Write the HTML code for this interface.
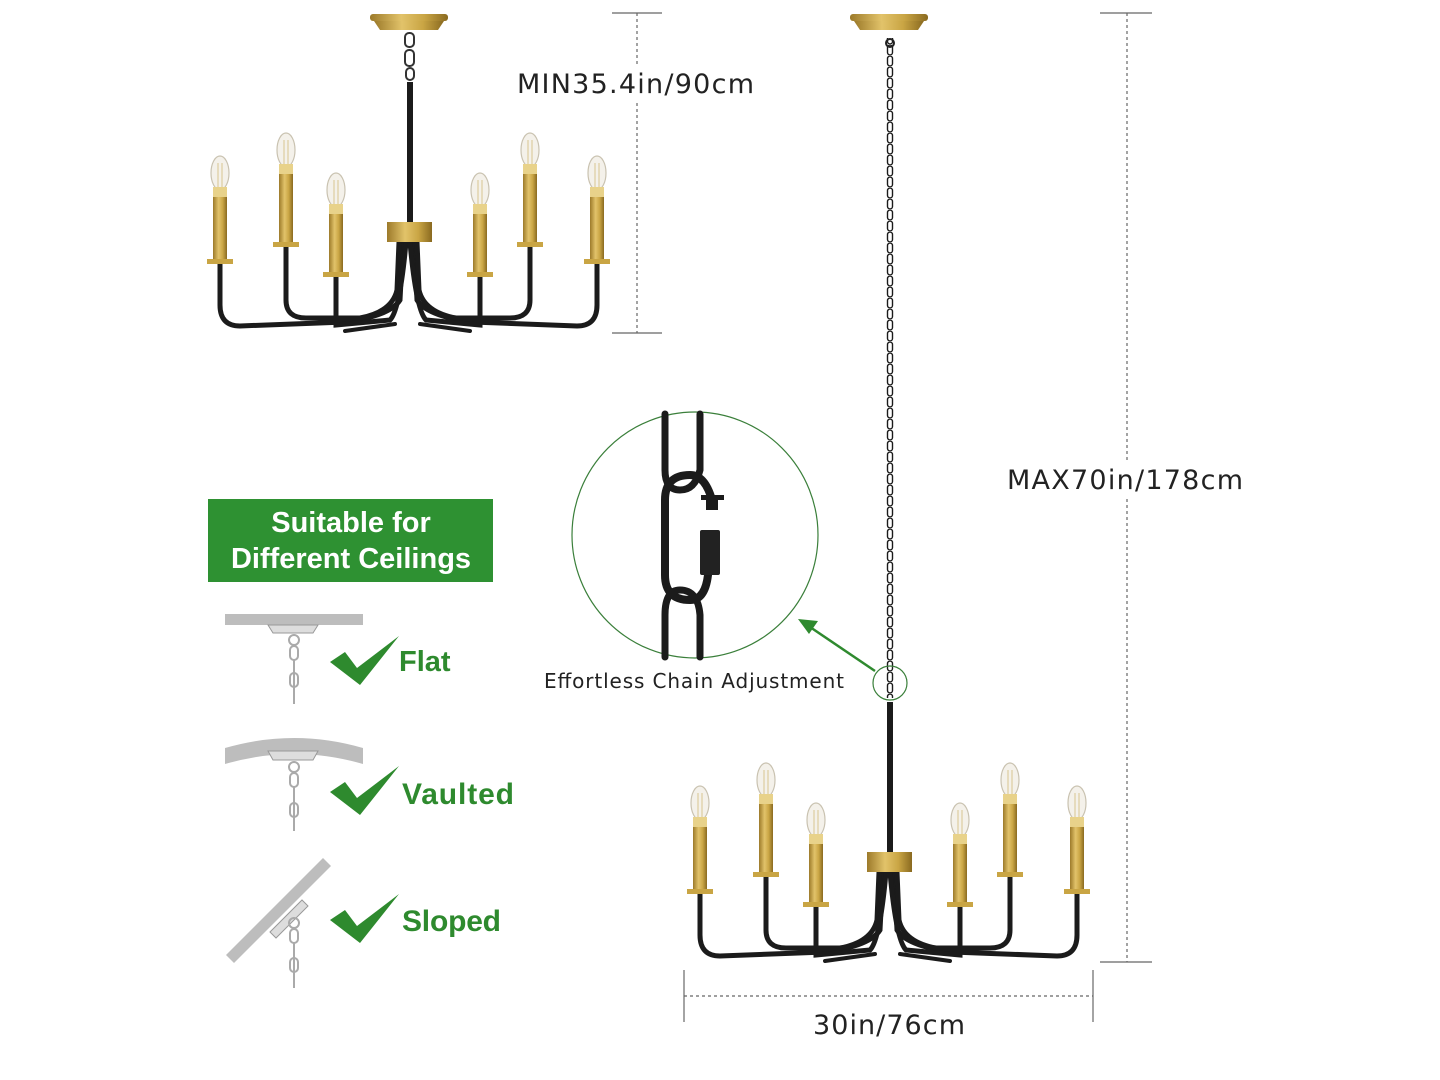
<!DOCTYPE html>
<html><head><meta charset="utf-8"><style>
html,body{margin:0;padding:0;background:#fff;}
svg{display:block;}
text{font-family:"DejaVu Sans","Liberation Sans",sans-serif;}
.lb{font-family:"Liberation Sans","DejaVu Sans",sans-serif;}
</style></head><body>
<svg width="1440" height="1080" viewBox="0 0 1440 1080" xmlns="http://www.w3.org/2000/svg">
<defs>
<linearGradient id="brass" x1="0" x2="1" y1="0" y2="0">
<stop offset="0" stop-color="#9c7a2a"/><stop offset="0.4" stop-color="#e2c36a"/><stop offset="0.7" stop-color="#c9a544"/><stop offset="1" stop-color="#8a6a20"/>
</linearGradient>
<g id="candle">
<ellipse cx="0" cy="-20" rx="9" ry="17" fill="#f4f1ea" stroke="#c9c2b0" stroke-width="1.2"/>
<line x1="-2" y1="-30" x2="-2" y2="-6" stroke="#d8c590" stroke-width="1"/>
<line x1="2" y1="-30" x2="2" y2="-6" stroke="#d8c590" stroke-width="1"/>
<rect x="-7" y="-6" width="14" height="10" fill="#e8d28a"/>
</g>
<g id="arms" fill="none" stroke="#1b1b1b" stroke-width="5" stroke-linecap="round">
<path d="M220,262 V305 Q220,326 240,326 L345,322 Q390,316 400,300 L403,242"/>
<path d="M286,245 V300 Q286,318 306,318 L360,318 Q392,312 397,290 L399,242"/>
<path d="M336,275 V325 L390,320 Q400,310 406,242"/>
<path d="M597,262 V305 Q597,326 577,326 L472,322 Q427,316 417,300 L414,242"/>
<path d="M530,245 V300 Q530,318 510,318 L456,318 Q424,312 419,290 L417,242"/>
<path d="M480,275 V325 L426,320 Q416,310 410,242"/>
<path d="M345,331 L395,324 M470,331 L420,324" stroke-width="4"/>
</g>
<g id="lamp">
<use href="#arms"/>
<g>
<rect x="213" y="193" width="14" height="67" fill="url(#brass)"/><rect x="207" y="259" width="26" height="5" fill="#c9a544"/><use href="#candle" x="220" y="193"/>
<rect x="279" y="170" width="14" height="73" fill="url(#brass)"/><rect x="273" y="242" width="26" height="5" fill="#c9a544"/><use href="#candle" x="286" y="170"/>
<rect x="329" y="210" width="14" height="63" fill="url(#brass)"/><rect x="323" y="272" width="26" height="5" fill="#c9a544"/><use href="#candle" x="336" y="210"/>
<rect x="473" y="210" width="14" height="63" fill="url(#brass)"/><rect x="467" y="272" width="26" height="5" fill="#c9a544"/><use href="#candle" x="480" y="210"/>
<rect x="523" y="170" width="14" height="73" fill="url(#brass)"/><rect x="517" y="242" width="26" height="5" fill="#c9a544"/><use href="#candle" x="530" y="170"/>
<rect x="590" y="193" width="14" height="67" fill="url(#brass)"/><rect x="584" y="259" width="26" height="5" fill="#c9a544"/><use href="#candle" x="597" y="193"/>
</g>
<rect x="387" y="222" width="45" height="20" fill="url(#brass)"/>
</g>
<g id="canopy">
<rect x="370" y="14" width="78" height="7" rx="3" fill="url(#brass)"/>
<path d="M374,21 H444 L438,30 H380 Z" fill="url(#brass)"/>
</g>
<pattern id="chainpat" x="885" y="0" width="10" height="11" patternUnits="userSpaceOnUse">
<rect x="2.5" y="1" width="5" height="10" rx="2.5" fill="none" stroke="#1b1b1b" stroke-width="1.4"/>
</pattern>
</defs>

<use href="#canopy"/>
<g fill="none" stroke="#333" stroke-width="2"><rect x="405" y="33" width="9" height="14" rx="4"/><rect x="405" y="50" width="9" height="16" rx="4"/><rect x="406" y="68" width="8" height="12" rx="4"/></g>
<rect x="407" y="82" width="6" height="140" fill="#1b1b1b"/>
<use href="#lamp"/>

<g stroke="#666" stroke-width="1.2">
<line x1="612" y1="13" x2="662" y2="13"/><line x1="612" y1="333" x2="662" y2="333"/>
<line x1="637" y1="13" x2="637" y2="333" stroke-dasharray="3,3"/>
</g>
<rect x="515" y="66" width="245" height="36" fill="#fff"/>
<text x="517" y="93" font-size="27" fill="#222" textLength="237">MIN35.4in/90cm</text>

<use href="#canopy" x="480"/>
<rect x="885" y="38" width="10" height="660" fill="url(#chainpat)"/>
<circle cx="890" cy="43" r="4" fill="none" stroke="#222" stroke-width="2"/>
<rect x="887" y="702" width="6" height="150" fill="#1b1b1b"/>
<use href="#lamp" x="480" y="630"/>

<g stroke="#666" stroke-width="1.2">
<line x1="1100" y1="13" x2="1152" y2="13"/><line x1="1100" y1="962" x2="1152" y2="962"/>
<line x1="1127" y1="13" x2="1127" y2="962" stroke-dasharray="3,3"/>
<line x1="684" y1="970" x2="684" y2="1022"/><line x1="1093" y1="970" x2="1093" y2="1022"/>
<line x1="684" y1="996" x2="1093" y2="996" stroke-dasharray="3,3"/>
</g>
<rect x="1003" y="462" width="245" height="36" fill="#fff"/>
<text x="1007" y="489" font-size="27" fill="#222" textLength="236">MAX70in/178cm</text>
<text x="813" y="1034" font-size="27" fill="#222" textLength="152">30in/76cm</text>

<circle cx="695" cy="535" r="123" fill="#fff" stroke="#3a7f3a" stroke-width="1.2"/>
<g fill="none" stroke="#1b1b1b" stroke-linecap="round">
<path d="M665,414 V470 Q665,490 680,490 Q695,490 700,470 V414" stroke-width="7"/>
<path d="M712,500 Q705,475 690,475 Q665,475 665,500 V575 Q665,600 690,600 Q705,600 708,575" stroke-width="8"/>
<path d="M665,657 V615 Q665,590 680,590 Q698,590 700,615 V657" stroke-width="7"/>
</g>
<rect x="701" y="495" width="23" height="5" fill="#1b1b1b"/>
<rect x="706" y="500" width="12" height="10" fill="#1b1b1b"/>
<rect x="700" y="530" width="20" height="45" rx="2" fill="#222"/>
<circle cx="890" cy="683" r="17" fill="none" stroke="#3a7f3a" stroke-width="1.2"/>
<line x1="875" y1="671" x2="810" y2="627" stroke="#2f8a2f" stroke-width="2.5"/>
<path d="M798,619 L818,621 L809,634 Z" fill="#2f8a2f"/>
<text x="544" y="688" font-size="20" fill="#222" textLength="300">Effortless Chain Adjustment</text>

<rect x="208" y="499" width="285" height="83" fill="#2e9132"/>
<text class="lb" x="351" y="532" font-size="29" font-weight="bold" fill="#fff" text-anchor="middle">Suitable for</text>
<text class="lb" x="351" y="568" font-size="29" font-weight="bold" fill="#fff" text-anchor="middle">Different Ceilings</text>

<rect x="225" y="614" width="138" height="11" fill="#bdbdbd"/>
<path d="M268,625 H318 L313,633 H273 Z" fill="#ddd" stroke="#999"/>
<g fill="none" stroke="#aaa" stroke-width="2"><circle cx="294" cy="640" r="5"/><rect x="290" y="646" width="8" height="14" rx="4"/><rect x="290" y="673" width="8" height="14" rx="4"/><line x1="294" y1="660" x2="294" y2="704"/></g>
<path d="M330,662 L345,652 L357,668 L399,636 L360,685 Z" fill="#2e8a2e"/>
<text class="lb" x="399" y="671" font-size="29" font-weight="bold" fill="#2e8a2e">Flat</text>

<path d="M225,748 Q294,728 363,748 V764 Q294,744 225,764 Z" fill="#bdbdbd"/>
<path d="M268,751 H318 L313,760 H273 Z" fill="#ddd" stroke="#999"/>
<g fill="none" stroke="#aaa" stroke-width="2"><circle cx="294" cy="767" r="5"/><rect x="290" y="773" width="8" height="14" rx="4"/><rect x="290" y="803" width="8" height="14" rx="4"/><line x1="294" y1="787" x2="294" y2="831"/></g>
<path d="M330,792 L345,782 L357,798 L399,766 L360,815 Z" fill="#2e8a2e"/>
<text class="lb" x="402" y="804" font-size="30" font-weight="bold" fill="#2e8a2e" textLength="112">Vaulted</text>

<path d="M226,955 L323,858 L331,866 L234,963 Z" fill="#bdbdbd"/>
<path d="M270,932 L302,900 L308,906 L276,938 Z" fill="#ddd" stroke="#999"/>
<g fill="none" stroke="#aaa" stroke-width="2"><circle cx="294" cy="923" r="5"/><rect x="290" y="929" width="8" height="14" rx="4"/><rect x="290" y="958" width="8" height="14" rx="4"/><line x1="294" y1="943" x2="294" y2="988"/></g>
<path d="M330,920 L345,910 L357,926 L399,894 L360,943 Z" fill="#2e8a2e"/>
<text class="lb" x="402" y="931" font-size="30" font-weight="bold" fill="#2e8a2e" textLength="99">Sloped</text>
</svg>
</body></html>
